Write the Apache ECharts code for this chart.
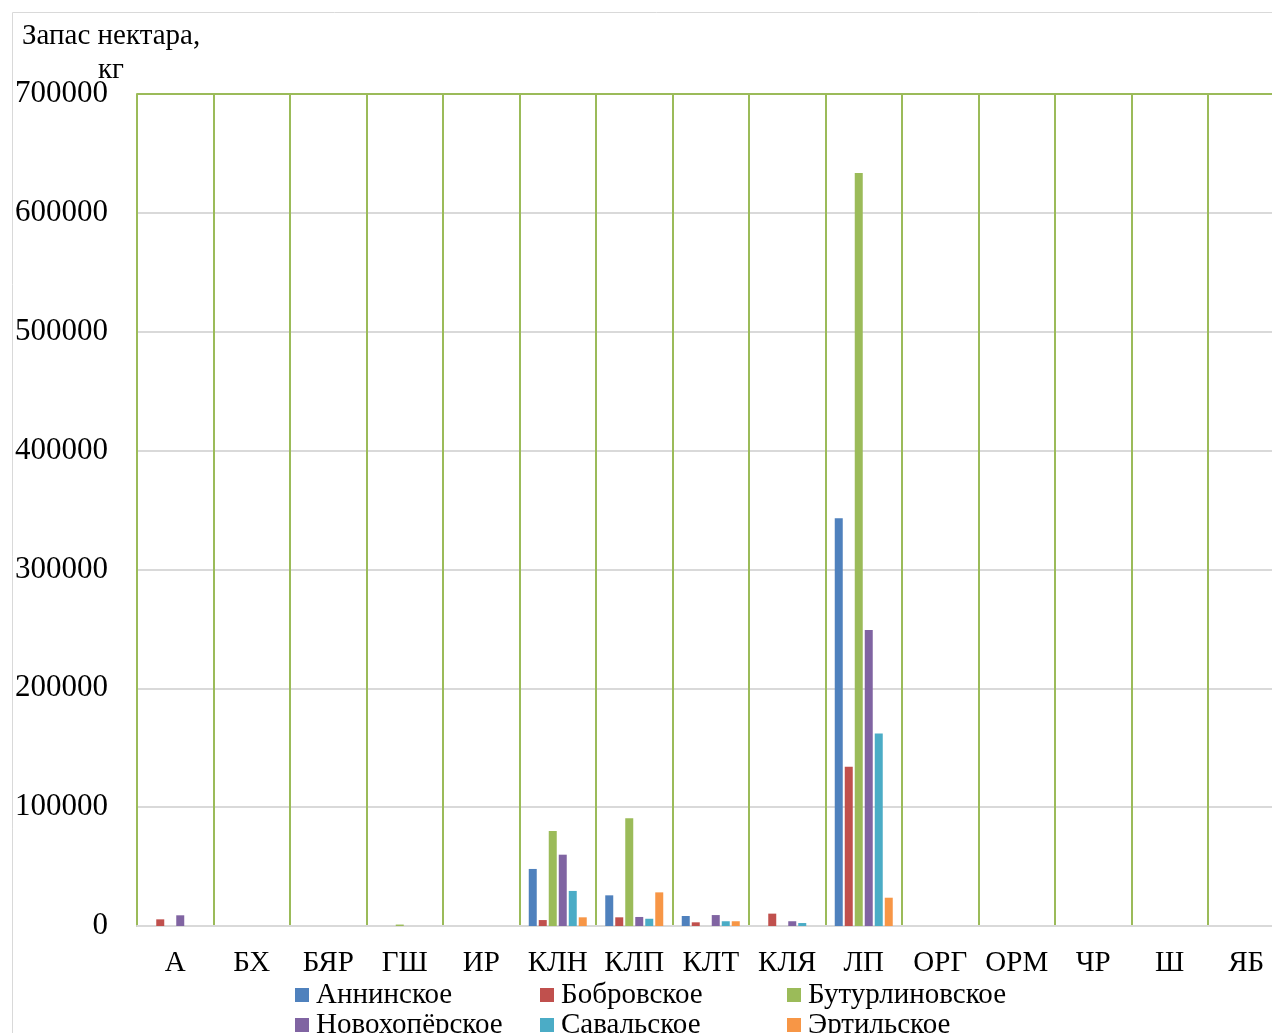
<!DOCTYPE html>
<html>
<head>
<meta charset="utf-8">
<script src="https://cdn.jsdelivr.net/npm/echarts@6/dist/echarts.min.js"></script>
<style>html,body{margin:0;padding:0;background:#fff;overflow:hidden;width:1272px;height:1033px}#c{width:1300px;height:1100px}</style>
</head>
<body>
<div id="c"></div>
<script>
const categories = ['А','БХ','БЯР','ГШ','ИР','КЛН','КЛП','КЛТ','КЛЯ','ЛП','ОРГ','ОРМ','ЧР','Ш','ЯБ'];
const seriesNames = ['Аннинское','Бобровское','Бутурлиновское','Новохопёрское','Савальское','Эртильское'];
const annino     = [0,    0,0,0,   0,48000,25800,8400,0,    343000,0,0,0,0,0];
const bobrov     = [5600, 0,0,0,   0,5000, 7300, 3100,10400,134000,0,0,0,0,0];
const buturlin   = [0,    0,0,1200,0,80000,90600,0,   0,    633500,0,0,0,0,0];
const novokhoper = [9000, 0,0,0,   0,60000,7600, 9200,4000, 249000,0,0,0,0,0];
const saval      = [0,    0,0,0,   0,29500,6100, 4000,2500, 162000,0,0,0,0,0];
const ertil      = [0,    0,0,0,   0,7300, 28300,4000,0,    23800, 0,0,0,0,0];
const seriesData = [annino,bobrov,buturlin,novokhoper,saval,ertil];
const colors = ['#4F81BD','#C0504D','#9BBB59','#8064A2','#4BACC6','#F79646'];
const yTicks = [0,100000,200000,300000,400000,500000,600000,700000];

const FONT = "'Liberation Serif','Times New Roman',serif";
const chart = echarts.init(document.getElementById('c'));
const legendCommon = {
  orient:'vertical', itemWidth:14, itemHeight:14, itemGap:0, icon:'rect', height:200,
  textStyle:{fontFamily:FONT,fontSize:29,lineHeight:30,color:'#000',padding:[0,0,0,2]}, top:980, padding:0
};
chart.setOption({
  animation:false,
  color:colors,
  graphic:[
    {type:'rect',left:10,top:10,shape:{width:1300,height:1100},style:{fill:'none',stroke:'#d9d9d9',lineWidth:1},z:-1},
    {type:'text',left:22,top:22,style:{text:'Запас нектара,',font:'29px '+FONT,fill:'#000'}},
    {type:'text',left:98,top:56,style:{text:'кг',font:'29px '+FONT,fill:'#000'}}
  ],
  legend:[
    Object.assign({},legendCommon,{left:295,data:[seriesNames[0],seriesNames[3]]}),
    Object.assign({},legendCommon,{left:540,data:[seriesNames[1],seriesNames[4]]}),
    Object.assign({},legendCommon,{left:787,data:[seriesNames[2],seriesNames[5]]})
  ],
  grid:{left:137,top:94,width:1147.5,height:832,containLabel:false},
  xAxis:{
    type:'category',data:categories,boundaryGap:true,
    axisLine:{lineStyle:{color:'#d9d9d9',width:2}},
    axisTick:{show:false},
    axisLabel:{fontFamily:FONT,fontSize:29,color:'#000',margin:23,interval:0},
    splitLine:{show:true,interval:0,lineStyle:{color:'#9BBB59',width:2}}
  },
  yAxis:{
    type:'value',min:0,max:700000,interval:100000,
    axisLine:{show:true,lineStyle:{color:'#9BBB59',width:2}},
    axisTick:{show:false},
    axisLabel:{fontFamily:FONT,fontSize:31,color:'#000',margin:29,padding:[5,0,0,0],
      formatter:function(v){return yTicks.indexOf(v)>=0?String(v):'';}},
    splitLine:{show:true,lineStyle:{color:['#d9d9d9','#d9d9d9','#d9d9d9','#d9d9d9','#d9d9d9','#d9d9d9','#d9d9d9','#9BBB59'],width:2}}
  },
  series:seriesNames.map(function(n,i){
    return {name:n,type:'bar',data:seriesData[i],barWidth:8,barGap:'25%',itemStyle:{color:colors[i]}};
  })
});
</script>
</body>
</html>
